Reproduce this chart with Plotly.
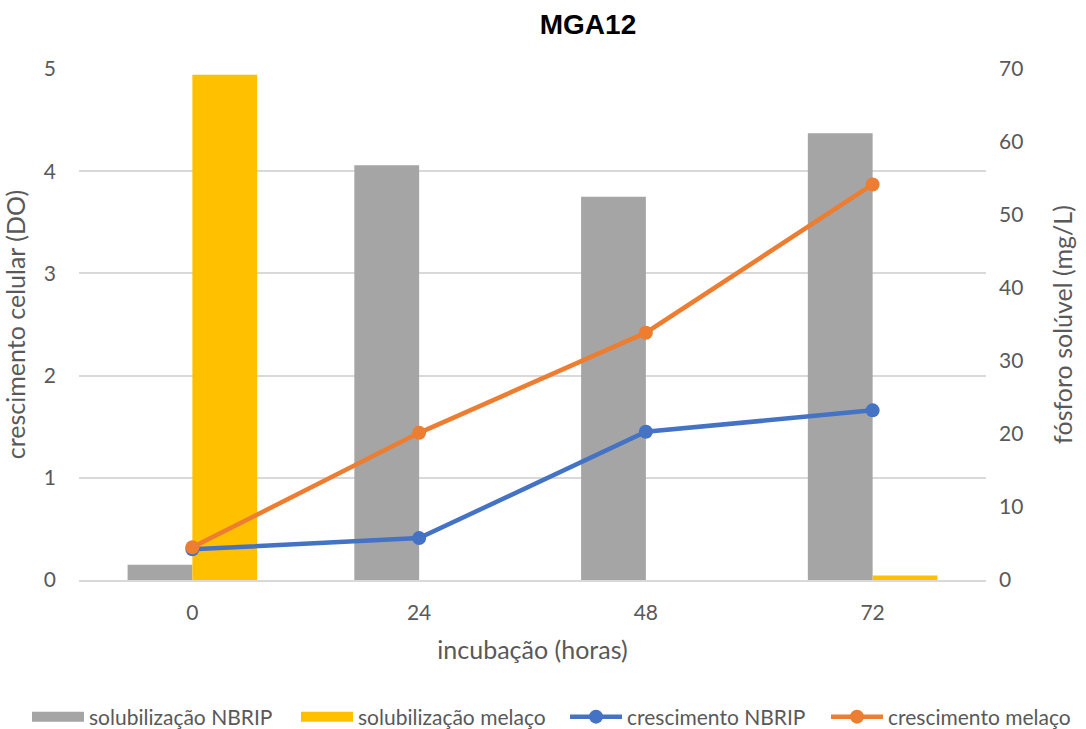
import plotly.graph_objects as go

# Incubation times (hours)
hours = ["0", "24", "48", "72"]

# Soluble phosphorus (mg/L) - bars, right axis
sol_nbrip = [2.1, 56.8, 52.5, 61.2]
sol_melaco = [69.2, 0.0, 0.0, 0.6]

# Cell growth (OD) - lines, left axis
cresc_nbrip = [0.30, 0.41, 1.45, 1.66]
cresc_melaco = [0.32, 1.44, 2.42, 3.87]

GRAY = "#A5A5A5"
YELLOW = "#FFC000"
BLUE = "#4472C4"
ORANGE = "#ED7D31"
TEXT = "#595959"
GRID = "#D9D9D9"
FONT = "Lato, 'Open Sans', sans-serif"

fig = go.Figure()

fig.add_trace(go.Bar(x=hours, y=sol_nbrip, name="solubilização NBRIP", showlegend=False,
                     marker=dict(color=GRAY, line=dict(width=0)), yaxis="y"))
fig.add_trace(go.Bar(x=hours, y=sol_melaco, name="solubilização melaço", showlegend=False,
                     marker=dict(color=YELLOW, line=dict(width=0)), yaxis="y"))

# wide rectangular legend keys for the two bar series
for name, color in [("solubilização NBRIP", GRAY), ("solubilização melaço", YELLOW)]:
    fig.add_trace(go.Scatter(x=[None], y=[None], name=name, mode="lines",
                             line=dict(color=color, width=14), yaxis="y", legend="legend"))

fig.add_trace(go.Scatter(x=hours, y=cresc_nbrip, name="crescimento NBRIP",
                         mode="lines+markers", yaxis="y2", legend="legend",
                         line=dict(color=BLUE, width=4.5),
                         marker=dict(color=BLUE, size=14)))
fig.add_trace(go.Scatter(x=hours, y=cresc_melaco, name="crescimento melaço",
                         mode="lines+markers", yaxis="y2", legend="legend2",
                         line=dict(color=ORANGE, width=4.5),
                         marker=dict(color=ORANGE, size=14)))

legend_common = dict(orientation="h", xref="container", yref="container",
                     xanchor="left", yanchor="middle", y=1 - 717 / 729,
                     itemwidth=52, font=dict(size=21, color=TEXT), traceorder="normal",
                     tracegroupgap=0, bgcolor="rgba(0,0,0,0)",
                     entrywidth=202, entrywidthmode="pixels")

fig.update_layout(
    width=1086, height=729,
    margin=dict(l=79, r=100, t=69, b=149, autoexpand=False),
    paper_bgcolor="white", plot_bgcolor="white",
    font=dict(family=FONT, size=21, color=TEXT),
    barmode="group", bargap=1.5 / 3.5, bargroupgap=0,
    title=dict(text="<b>MGA12</b>", x=588 / 1086, xanchor="center",
               y=1 - 24 / 729, yanchor="middle",
               font=dict(family="Liberation Sans, Arial, sans-serif", size=28, color="black")),
    xaxis=dict(
        type="category", showgrid=False, showline=True, linecolor=GRID, linewidth=1.5,
        ticks="", ticklabelstandoff=13,
        title=dict(text="incubação (horas)", standoff=19),
    ),
    yaxis=dict(
        side="right", range=[0, 70], dtick=10, showgrid=False, zeroline=False,
        showline=False, ticks="", ticklabelstandoff=12,
        title=dict(text="fósforo solúvel (mg/L)", standoff=32),
    ),
    yaxis2=dict(
        side="left", overlaying="y", range=[0, 5], dtick=1, showgrid=True,
        gridcolor=GRID, gridwidth=1.5, zeroline=False, showline=False, ticks="",
        ticklabelstandoff=22,
        title=dict(text="crescimento celular (DO)", standoff=16),
    ),
    legend=dict(x=27 / 1086, **legend_common),
    legend2=dict(x=826 / 1086, **legend_common),
    showlegend=True,
)

fig.write_html("out.html")
